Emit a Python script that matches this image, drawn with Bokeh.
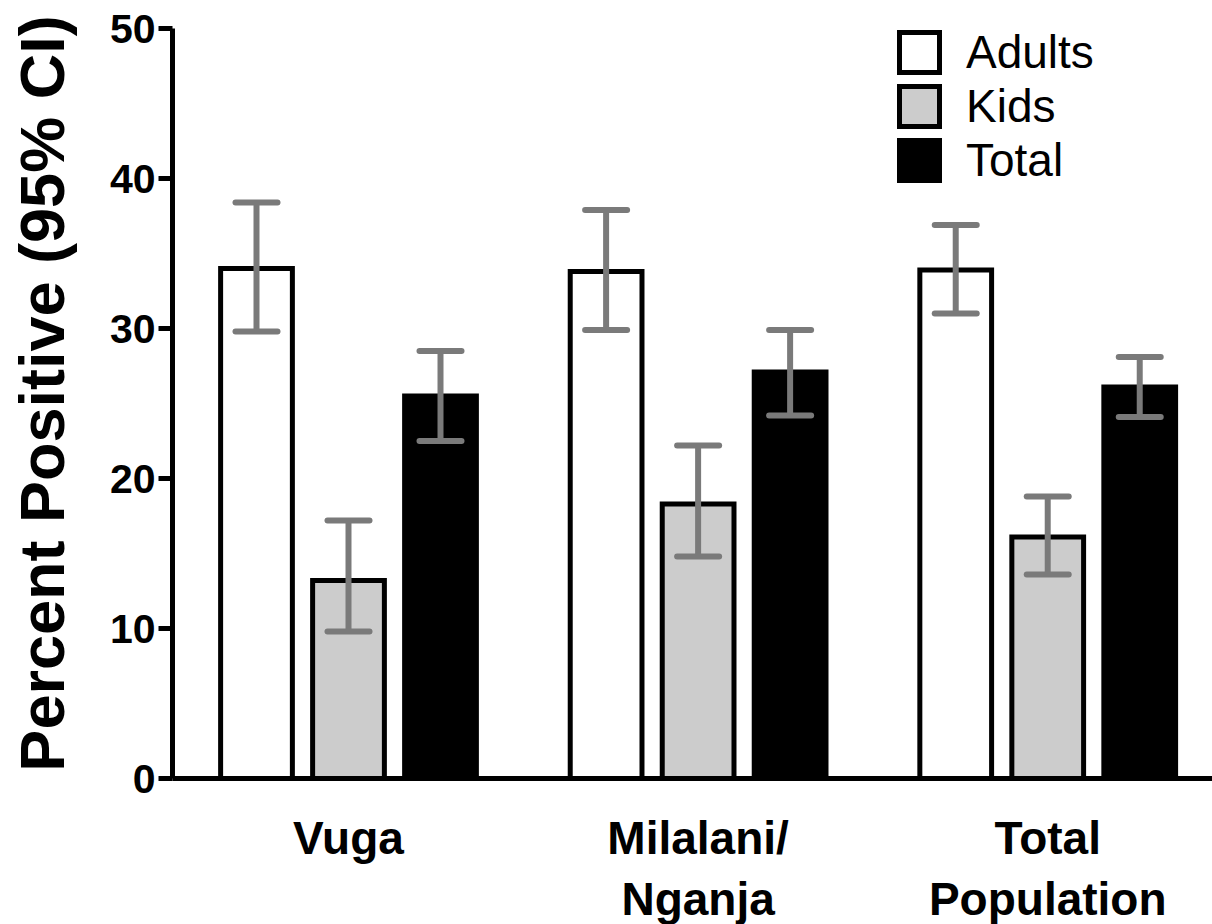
from bokeh.plotting import figure
from bokeh.layouts import column
from bokeh.models import (ColumnDataSource, Whisker, TeeHead, FixedTicker,
                          Legend, LegendItem, Range1d)
from bokeh.core.properties import value
from bokeh.embed import file_html
from bokeh.resources import INLINE

# ---- data ----
groups = ["Vuga", "Milalani/\nNganja", "Total\nPopulation"]
series = ["Adults", "Kids", "Total"]

adults = [34.0, 33.8, 33.9]
adults_lo = [29.8, 29.9, 31.0]
adults_hi = [38.4, 37.9, 36.9]

kids = [13.2, 18.3, 16.1]
kids_lo = [9.8, 14.8, 13.6]
kids_hi = [17.2, 22.2, 18.8]

total = [25.5, 27.1, 26.1]
total_lo = [22.5, 24.2, 24.1]
total_hi = [28.5, 29.9, 28.1]

values = [adults, kids, total]
lows = [adults_lo, kids_lo, total_lo]
highs = [adults_hi, kids_hi, total_hi]

# ---- layout / style ----
GROUP_STEP = 38
BAR_STEP = 10
BAR_W = 7.8
fills = ["#ffffff", "#cccccc", "#000000"]
ERR = "#7a7a7a"
FONT = "Liberation Sans"

centers = [i * GROUP_STEP for i in range(len(groups))]

p = figure(width=1212, height=808,
           x_range=Range1d(-19.13, 93.91), y_range=Range1d(0, 50 + 20 / 15),
           output_backend="svg", toolbar_location=None,
           min_border_left=172, min_border_top=8,
           min_border_bottom=30, min_border_right=0)
p.outline_line_color = None
p.xgrid.grid_line_color = None
p.ygrid.grid_line_color = None
p.background_fill_color = "white"

renderers = []
wx, wlo, whi = [], [], []
for k, name in enumerate(series):
    xs = [c + (k - 1) * BAR_STEP for c in centers]
    src = ColumnDataSource(dict(x=xs, top=values[k]))
    r = p.vbar(x="x", top="top", bottom=0, width=BAR_W, source=src,
               fill_color=fills[k], line_color="black", line_width=5,
               line_join="miter")
    renderers.append(r)
    wx += xs
    wlo += lows[k]
    whi += highs[k]

wsrc = ColumnDataSource(dict(x=wx, lower=wlo, upper=whi))
w = Whisker(base="x", lower="lower", upper="upper", source=wsrc,
            line_color=ERR, line_width=6, level="overlay",
            upper_head=TeeHead(size=42, line_color=ERR, line_width=6, line_cap="round"),
            lower_head=TeeHead(size=42, line_color=ERR, line_width=6, line_cap="round"))
p.add_layout(w)

# x axis: line only (category names are set in the strip below)
p.xaxis.ticker = FixedTicker(ticks=[])
p.xaxis.major_tick_line_color = None
p.xaxis.minor_tick_line_color = None
p.xaxis.axis_line_width = 5
p.xaxis.axis_line_color = "black"

p.yaxis.bounds = (0, 50)
p.yaxis.ticker = FixedTicker(ticks=[0, 10, 20, 30, 40, 50])
p.yaxis.minor_tick_line_color = None
p.yaxis.major_tick_out = 14
p.yaxis.major_tick_in = 0
p.yaxis.major_tick_line_width = 5
p.yaxis.axis_line_width = 5
p.yaxis.major_label_standoff = 3
p.yaxis.major_label_text_font = FONT
p.yaxis.major_label_text_font_style = "bold"
p.yaxis.major_label_text_font_size = "41px"
p.yaxis.major_label_text_color = "black"
p.yaxis.axis_label = "Percent Positive (95% CI)"
p.yaxis.axis_label_text_font = FONT
p.yaxis.axis_label_text_font_style = "bold"
p.yaxis.axis_label_text_font_size = "63px"
p.yaxis.axis_label_text_color = "black"
p.yaxis.axis_label_standoff = 30

legend = Legend(items=[LegendItem(label=s, renderers=[r]) for s, r in zip(series, renderers)],
                location=(722, 591), padding=0, spacing=-5, margin=0,
                glyph_width=50, glyph_height=50, label_standoff=22,
                label_text_font=FONT, label_text_font_size="46px",
                label_text_color="black",
                border_line_color=None, background_fill_alpha=0)
p.add_layout(legend)

# strip below the axis holding the category names, sharing the x scale
strip = figure(width=1212, height=116, x_range=p.x_range, y_range=Range1d(-116, 0),
               output_backend="svg", toolbar_location=None,
               min_border_left=172, min_border_top=0,
               min_border_bottom=0, min_border_right=0)
strip.axis.visible = False
strip.xgrid.grid_line_color = None
strip.ygrid.grid_line_color = None
strip.outline_line_color = None
cat_src = ColumnDataSource(dict(x=centers, text=groups))
strip.text(x="x", y=-3.5, text="text", source=cat_src,
           text_align="center", text_baseline="top",
           text_font=value(FONT), text_font_style="bold", text_font_size="46px",
           text_color="black", text_line_height=1.17)

layout = column(p, strip, spacing=0)
open("out.html", "w").write(file_html(layout, INLINE))
